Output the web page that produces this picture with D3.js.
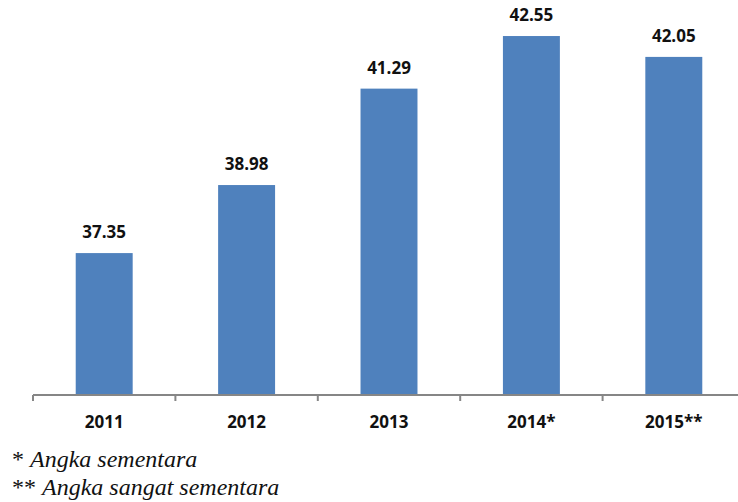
<!doctype html>
<html lang="en">
<head>
<meta charset="utf-8">
<title>Bar chart</title>
<script src="https://cdn.jsdelivr.net/npm/d3@7"></script>
<style>
  body { margin: 0; background: #fff; }
  .val, .tick-lbl { font-family: "Open Sans", sans-serif; font-weight: bold; font-size: 17px; fill: #111; }
</style>
</head>
<body>
<script>
// data
var years = ["2011", "2012", "2013", "2014*", "2015**"];
var values = [37.35, 38.98, 41.29, 42.55, 42.05];
var noteMarks = ["*", "**"];
var notes = ["Angka sementara", "Angka sangat sementara"];

var W = 738, H = 502;
var baseY = 395;

var svg = d3.select("body").append("svg")
    .attr("width", W)
    .attr("height", H);

var x = d3.scaleBand()
    .domain(years)
    .range([33, 745]);

var y = d3.scaleLinear()
    .domain([33.95, 43])
    .range([baseY, baseY - 9.05 * 41.74]);

var barW = x.bandwidth() * 0.4;

svg.selectAll("rect.bar")
    .data(years)
    .enter().append("rect")
    .attr("class", "bar")
    .attr("x", (d) => x(d) + (x.bandwidth() - barW) / 2)
    .attr("width", barW)
    .attr("y", (d, i) => y(values[i]))
    .attr("height", (d, i) => baseY - y(values[i]))
    .attr("fill", "#4F81BD");

svg.selectAll("text.val")
    .data(years)
    .enter().append("text")
    .attr("class", "val")
    .attr("x", (d) => x(d) + x.bandwidth() / 2)
    .attr("y", (d, i) => y(values[i]) - 15)
    .attr("text-anchor", "middle")
    .text((d, i) => values[i].toFixed(2));

// axis line + ticks at band edges
svg.append("line")
    .attr("x1", 33).attr("x2", W)
    .attr("y1", baseY).attr("y2", baseY)
    .attr("stroke", "#868686")
    .attr("stroke-width", 2);

var edges = years.map((d) => x(d)).concat([x.range()[1]]);
svg.selectAll("line.tk")
    .data(edges)
    .enter().append("line")
    .attr("class", "tk")
    .attr("x1", (d) => d).attr("x2", (d) => d)
    .attr("y1", baseY).attr("y2", baseY + 6)
    .attr("stroke", "#868686")
    .attr("stroke-width", 2);

svg.selectAll("text.tick-lbl")
    .data(years)
    .enter().append("text")
    .attr("class", "tick-lbl")
    .attr("x", (d) => x(d) + x.bandwidth() / 2)
    .attr("y", 428)
    .attr("text-anchor", "middle")
    .text((d) => d);

var nt = svg.selectAll("text.note")
    .data(notes)
    .enter().append("text")
    .attr("class", "note")
    .attr("x", 12)
    .attr("y", (d, i) => 467 + i * 28)
    .style("font-family", "'Liberation Serif', 'DejaVu Serif', serif")
    .style("font-size", "24px")
    .style("fill", "#111");
nt.append("tspan")
    .text((d, i) => noteMarks[i] + " ");
nt.append("tspan")
    .style("font-style", "italic")
    .text((d) => d);
</script>
</body>
</html>
